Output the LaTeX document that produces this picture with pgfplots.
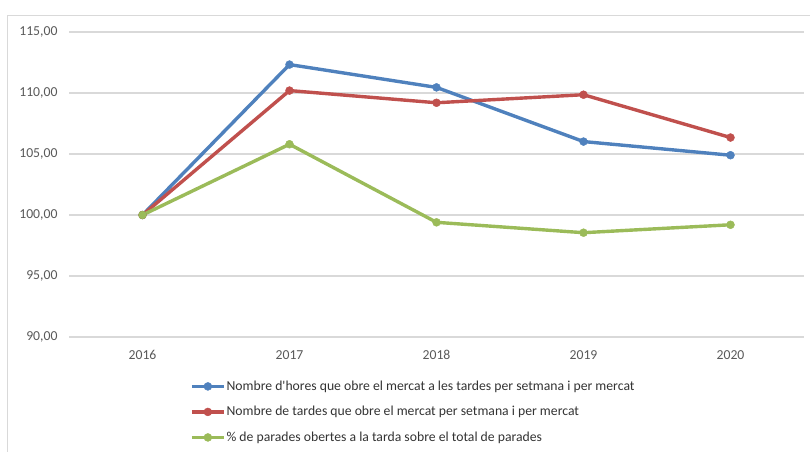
\documentclass[border=0pt]{standalone}
\usepackage{pgfplots}
\pgfplotsset{compat=1.18}
\usepackage{fontspec}
\setmainfont{Carlito}
\definecolor{cblue}{HTML}{4F81BD}
\definecolor{cred}{HTML}{C0504D}
\definecolor{cgreen}{HTML}{9BBB59}
\definecolor{tickgray}{HTML}{595959}
\definecolor{gridgray}{HTML}{D9D9D9}
\begin{document}
\begin{tikzpicture}
\path[use as bounding box] (-69pt,-114pt) rectangle (741pt,337pt);
\draw[gridgray, line width=0.9pt] (-62pt,-120pt) -- (-62pt,322pt) -- (750pt,322pt);
\begin{axis}[
  at={(0pt,0pt)}, anchor=south west,
  scale only axis, width=735pt, height=305pt,
  xmin=-0.5, xmax=4.5, ymin=90, ymax=115,
  xtick={0,1,2,3,4}, xticklabels={2016,2017,2018,2019,2020},
  ytick={90,95,100,105,110,115},
  yticklabel style={xshift=-8pt, /pgf/number format/.cd, fixed, fixed zerofill, precision=2, use comma, 1000 sep={}},
  /pgf/number format/assume math mode=true,
  ymajorgrids, grid style={gridgray, line width=1.1pt},
  axis x line*=bottom, axis y line*=left,
  x axis line style={gridgray, line width=1.1pt, -},
  y axis line style={draw=none},
  major tick length=0pt,
  tick label style={font=\fontsize{13.7}{16}\selectfont, text=tickgray},
  xticklabel style={yshift=-10pt},
  every axis plot/.append style={line width=3.4pt, mark=*, mark size=4pt, mark options={solid, line width=0.4pt}},
  legend style={at={(0.1646,-0.14)}, anchor=north west, draw=none, fill=none,
    font=\fontsize{13.7}{16}\selectfont, text=black!80, row sep=12.5pt, inner sep=0pt,
    nodes={inner sep=1pt}},
  legend cell align=left,
  legend image code/.code={\draw[#1, mark repeat=2, mark phase=2] plot coordinates {(0pt,0pt)(16pt,0pt)(32pt,0pt)};},
  clip=false,
]
\addplot[color=cblue] coordinates {(0,100) (1,112.33) (2,110.46) (3,106.02) (4,104.9)};
\addlegendentry{Nombre d\textquotesingle hores que obre el mercat a les tardes per setmana i per mercat}
\addplot[color=cred] coordinates {(0,100) (1,110.2) (2,109.2) (3,109.86) (4,106.35)};
\addlegendentry{Nombre de tardes que obre el mercat per setmana i per mercat}
\addplot[color=cgreen] coordinates {(0,100) (1,105.8) (2,99.4) (3,98.55) (4,99.2)};
\addlegendentry{\% de parades obertes a la tarda sobre el total de parades}
\end{axis}
\end{tikzpicture}
\end{document}
